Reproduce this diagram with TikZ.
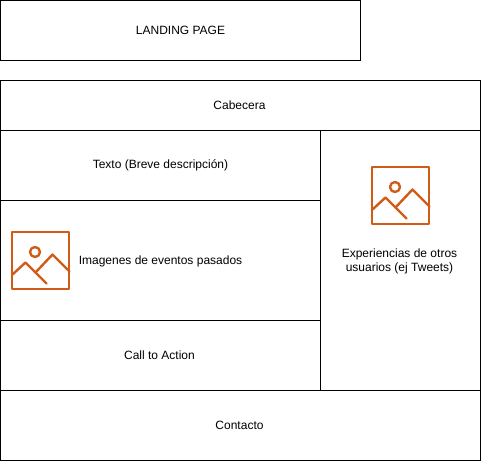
\documentclass[tikz,border=0pt]{standalone}
\usepackage{fontspec}
\setmainfont{Liberation Sans}
\tikzset{
  panel/.style={draw=black,line width=1pt,inner sep=0pt,outer sep=0pt,fill=white,font=\fontsize{12pt}{14pt}\selectfont,text=black,align=center},
  lbl/.style={inner sep=0pt,outer sep=0pt,font=\fontsize{12pt}{14pt}\selectfont,text=black,align=center},
  imgicon/.style={draw=iconorange,line width=2.4pt,line join=round,line cap=round},
}
\definecolor{iconorange}{HTML}{D05C17}
\newcommand{\placeicon}[2]{%
  \begin{scope}[shift={(#1,#2)}]
    \draw[imgicon] (0.3,0.3) rectangle (57.7,57.7);
    \draw[imgicon] (23.5,20.5) circle (5);
    \draw[imgicon] (1,43) -- (14,31) -- (35,52);
    \draw[imgicon] (24,41) -- (41,23) -- (58,40);
  \end{scope}}
\begin{document}
\begin{tikzpicture}[x=1pt,y=-1pt]
  \useasboundingbox (0,0) rectangle (482,462);
  \node[panel,minimum width=360pt,minimum height=60pt,anchor=north west] (landing) at (0.5,0.5) {LANDING PAGE};
  \node[panel,minimum width=480pt,minimum height=50pt,anchor=north west] (cabecera) at (0.5,80.5) {};
  \node[lbl] (cabeceratext) at (239.5,105) {Cabecera};
  \node[panel,minimum width=320pt,minimum height=70pt,anchor=north west] (texto) at (0.5,130.5) {Texto (Breve descripción)};
  \node[panel,minimum width=320pt,minimum height=120pt,anchor=north west] (imagenes) at (0.5,200.5) {};
  \node[lbl] (imagenestext) at (160.5,261) {Imagenes de eventos pasados};
  \node[panel,minimum width=320pt,minimum height=70pt,anchor=north west] (cta) at (0.5,320.5) {};
  \node[lbl] (ctatext) at (159.5,355) {Call to Action};
  \node[panel,minimum width=160pt,minimum height=260pt,anchor=north west] (exp) at (320.5,130.5) {};
  \node[lbl] (exptext) at (399.5,261) {Experiencias de otros\\usuarios (ej Tweets)};
  \node[panel,minimum width=480pt,minimum height=70pt,anchor=north west] (contacto) at (0.5,390.5) {};
  \node[lbl] (contactotext) at (239.5,425) {Contacto};
  \placeicon{11.5}{231.5}
  \placeicon{371.5}{166.5}
\end{tikzpicture}
\end{document}
